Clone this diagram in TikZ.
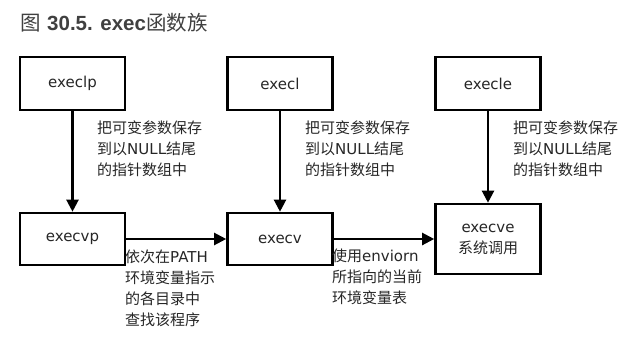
\documentclass[tikz,border=0pt]{standalone}
\usepackage{fontspec}
\setmainfont{DejaVu Sans}
\newfontfamily\cjk{Noto Sans CJK SC}
\newfontfamily\titlefont{Liberation Sans}
\usetikzlibrary{arrows.meta}
\newcommand{\zh}[1]{{\cjk #1}}

\begin{document}
\begin{tikzpicture}[x=1pt,y=-1pt,>={Triangle[length=12pt,width=12pt]},font=\fontsize{15}{21}\selectfont,text=black!85,
  fn/.style={draw,line width=2.6pt,minimum width=105pt,minimum height=53pt,inner sep=0pt},
  note/.style={anchor=north west,align=left,inner sep=0pt},
  flow/.style={->,line width=2.2pt}]
 \useasboundingbox (0,0) rectangle (640,346);
 \node[anchor=base west,inner sep=0pt,font=\fontsize{20.5}{22}\selectfont,text=black!75] (title) at (20,30) {\zh{图} {\titlefont\bfseries 30.5. exec}\zh{函数族}};
 \node[fn] (execlp) at (72.5,83.5) {execlp}; \node[fn] (execl) at (280,83.5) {execl}; \node[fn] (execle) at (488,83.5) {execle};
 \node[fn,minimum height=52pt] (execvp) at (72.5,239) {execvp}; \node[fn,minimum height=52pt] (execv) at (280,239) {execv};
 \node[fn,minimum height=70pt,align=center] (execve) at (488,239) {execve\\\zh{系统调用}};
 \draw[flow] (execlp) -- (execvp); \draw[flow] (execl) -- (execv); \draw[flow] (execle) -- (execve);
 \draw[flow] (execvp) -- (execv); \draw[flow] (execv) -- (execve);
 \foreach \x/\n in {97/a,305/b,513/c}{\node[note] (pack\n) at (\x,121) {\zh{把可变参数保存}\\\zh{到以}NULL\zh{结尾}\\\zh{的指针数组中}};}
 \node[note] (pathnote) at (125,250) {\zh{依次在}PATH\\\zh{环境变量指示}\\\zh{的各目录中}\\\zh{查找该程序}};
 \node[note] (envnote) at (332,249) {\zh{使用}enviorn\\\zh{所指向的当前}\\\zh{环境变量表}};
\end{tikzpicture}
\end{document}
